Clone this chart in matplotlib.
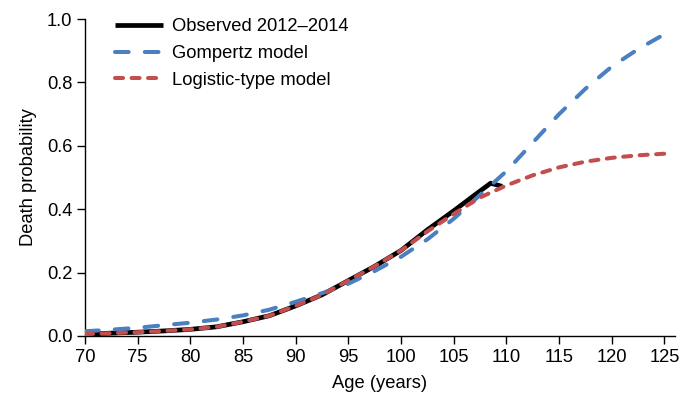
import numpy as np
import matplotlib
matplotlib.use("Agg")
import matplotlib.pyplot as plt

# ---- Data ----
age_obs = [70, 72.5, 75, 77.5, 80, 82.5, 85, 87.5, 90, 92.5, 95, 97.5,
           100, 102.5, 105, 107, 108.5, 109.6]
p_obs   = [0.006, 0.009, 0.012, 0.016, 0.021, 0.029, 0.045, 0.064, 0.095,
           0.13, 0.175, 0.22, 0.27, 0.335, 0.395, 0.445, 0.482, 0.472]

age_gom = [70, 72.5, 75, 77.5, 80, 82.5, 85, 87.5, 90, 92.5, 95, 97.5, 100,
           102.5, 105, 107.5, 110, 112.5, 115, 117.5, 120, 122.5, 125, 125.8]
p_gom   = [0.015, 0.02, 0.026, 0.034, 0.042, 0.052, 0.065, 0.083, 0.108,
           0.135, 0.165, 0.205, 0.25, 0.305, 0.37, 0.445, 0.52, 0.61, 0.70,
           0.78, 0.85, 0.905, 0.952, 0.962]

age_log = [70, 72.5, 75, 77.5, 80, 82.5, 85, 87.5, 90, 92.5, 95, 97.5, 100,
           102.5, 105, 107.5, 110, 112.5, 115, 117.5, 120, 122.5, 125]
p_log   = [0.006, 0.009, 0.012, 0.016, 0.021, 0.029, 0.045, 0.064, 0.095,
           0.13, 0.175, 0.22, 0.27, 0.33, 0.385, 0.437, 0.475, 0.507, 0.532,
           0.55, 0.562, 0.57, 0.575]

xticks = np.arange(70, 130, 5)
yticks = [0.0, 0.2, 0.4, 0.6, 0.8, 1.0]

plt.rcParams.update({
    "font.family": ["Liberation Sans", "DejaVu Sans"],
    "font.size": 13.25,
    "axes.linewidth": 1.0,
    "xtick.direction": "out",
    "ytick.direction": "out",
    "xtick.major.size": 5.5,
    "ytick.major.size": 5.5,
    "xtick.major.width": 1.0,
    "ytick.major.width": 1.0,
    "legend.frameon": False,
})

fig = plt.figure(figsize=(6.83, 3.95), dpi=100)
ax = fig.add_axes([85 / 683, 59 / 395, 590 / 683, 317 / 395])

ax.plot(age_obs, p_obs, color="black", lw=3.4, solid_capstyle="butt",
        label="Observed 2012\u20132014", zorder=2)
ax.plot(age_gom, p_gom, color="#4A7FC1", lw=2.9, ls=(0, (3.4, 4.0)),
        dash_capstyle="round", label="Gompertz model", zorder=3)
ax.plot(age_log, p_log, color="#C44E4E", lw=2.9, ls=(0, (2.0, 2.1)),
        dash_capstyle="round", label="Logistic-type model", zorder=4)

ax.set_xlim(70, 126)
ax.set_ylim(0, 1.0)
ax.set_xticks(xticks)
ax.set_yticks(yticks)
ax.set_yticklabels([f"{v:.1f}" for v in yticks])

ax.spines["top"].set_visible(False)
ax.spines["right"].set_visible(False)

ax.set_xlabel("Age (years)")
ax.xaxis.set_label_coords(0.5, -0.124)
ax.set_ylabel("Death probability", labelpad=7)

ax.legend(loc="upper left", bbox_to_anchor=(0.038, 1.025), handlelength=2.6,
          handletextpad=0.5, labelspacing=0.52, borderaxespad=0)

fig.savefig("out.png", dpi=100)
